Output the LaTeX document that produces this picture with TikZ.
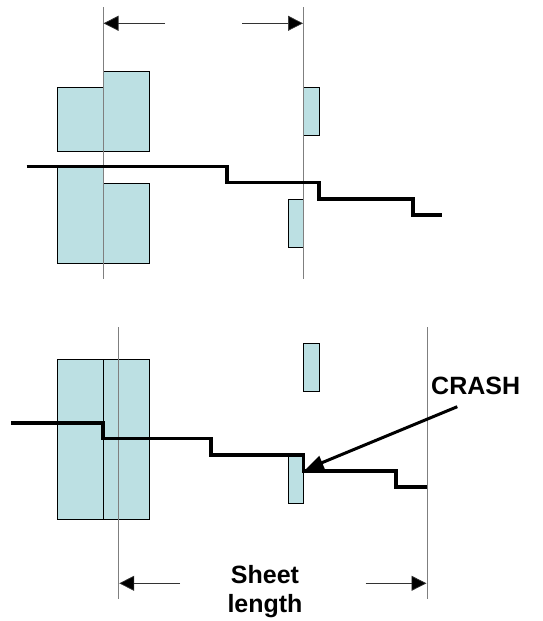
\documentclass[tikz,border=0pt]{standalone}
\usepackage{fontspec}
\setmainfont{Liberation Sans}
\usetikzlibrary{arrows.meta}
\definecolor{boxfill}{HTML}{BCE0E3}
\definecolor{guide}{HTML}{7F7F7F}
\tikzset{
  box/.style={draw=black, fill=boxfill, line width=0.9pt, inner sep=0pt, outer sep=0pt, anchor=north west},
  guideline/.style={draw=guide, line width=1pt},
  dimarrow/.style={draw=black!80, line width=0.7pt, -{Triangle[length=15pt,width=15pt,fill=black]}},
  profile/.style={draw=black, line width=3.3pt, line join=miter},
  crasharrow/.style={draw=black, line width=3pt, -{Triangle[length=18pt,width=14pt]}},
  lbl/.style={font=\fontsize{25}{29}\selectfont\bfseries, inner sep=0pt, anchor=base}
}
\begin{document}
\begin{tikzpicture}[x=1pt,y=-1pt]
\useasboundingbox (0,0) rectangle (542,621);
% ---------- top section ----------
\node[box, minimum width=46, minimum height=64] (tl1) at (57,87) {};
\node[box, minimum width=46.7, minimum height=80] (tr1) at (103,71) {};
\node[box, minimum width=46, minimum height=96] (tl2) at (57,167) {};
\node[box, minimum width=46.7, minimum height=80] (tr2) at (103,183) {};
\node[box, minimum width=15.5, minimum height=48] (ts1) at (303.5,87) {};
\node[box, minimum width=15, minimum height=48] (ts2) at (288.5,199) {};
\coordinate (tg1a) at (103,7);  \coordinate (tg1b) at (103,279);
\coordinate (tg2a) at (303.5,7); \coordinate (tg2b) at (303.5,279);
\draw[guideline] (tg1a) -- (tg1b);
\draw[guideline] (tg2a) -- (tg2b);
\coordinate (ta1) at (165,23.3); \coordinate (ta1e) at (103.5,23.3);
\coordinate (ta2) at (242,23.3); \coordinate (ta2e) at (303,23.3);
\draw[dimarrow] (ta1) -- (ta1e);
\draw[dimarrow] (ta2) -- (ta2e);
\draw[profile] (26.7,166.7) -- (227,166.7) -- (227,182.7) -- (319,182.7) -- (319,199) -- (413,199) -- (413,215) -- (442,215);
% ---------- bottom section ----------
\node[box, minimum width=46, minimum height=160] (bl1) at (57,359) {};
\node[box, minimum width=46.7, minimum height=160] (br1) at (103,359) {};
\node[box, minimum width=15.5, minimum height=48] (bs1) at (303.5,343) {};
\node[box, minimum width=15, minimum height=47.3] (bs2) at (288.5,455.7) {};
\coordinate (bg1a) at (118.7,327); \coordinate (bg1b) at (118.7,599);
\coordinate (bg2a) at (427,327);   \coordinate (bg2b) at (427,599);
\draw[guideline] (bg1a) -- (bg1b);
\draw[guideline] (bg2a) -- (bg2b);
\draw[profile] (11,423) -- (103,423) -- (103,438.7) -- (211,438.7) -- (211,455) -- (303.5,455) -- (303.5,471) -- (396,471) -- (396,487) -- (427,487);
\coordinate (ba1) at (180,583.3); \coordinate (ba1e) at (119.2,583.3);
\coordinate (ba2) at (365.7,583.3); \coordinate (ba2e) at (426.5,583.3);
\draw[dimarrow] (ba1) -- (ba1e);
\draw[dimarrow] (ba2) -- (ba2e);
\node[lbl] (sheet) at (265,583) {Sheet};
\node[lbl] (length) at (265,612) {length};
\node[lbl, anchor=base west] (crash) at (431,394) {CRASH};
\coordinate (crashtail) at (457.3,406.7);
\coordinate (crashtip) at (305.5,469.5);
\draw[crasharrow] (crashtail) -- (crashtip);
\end{tikzpicture}
\end{document}
